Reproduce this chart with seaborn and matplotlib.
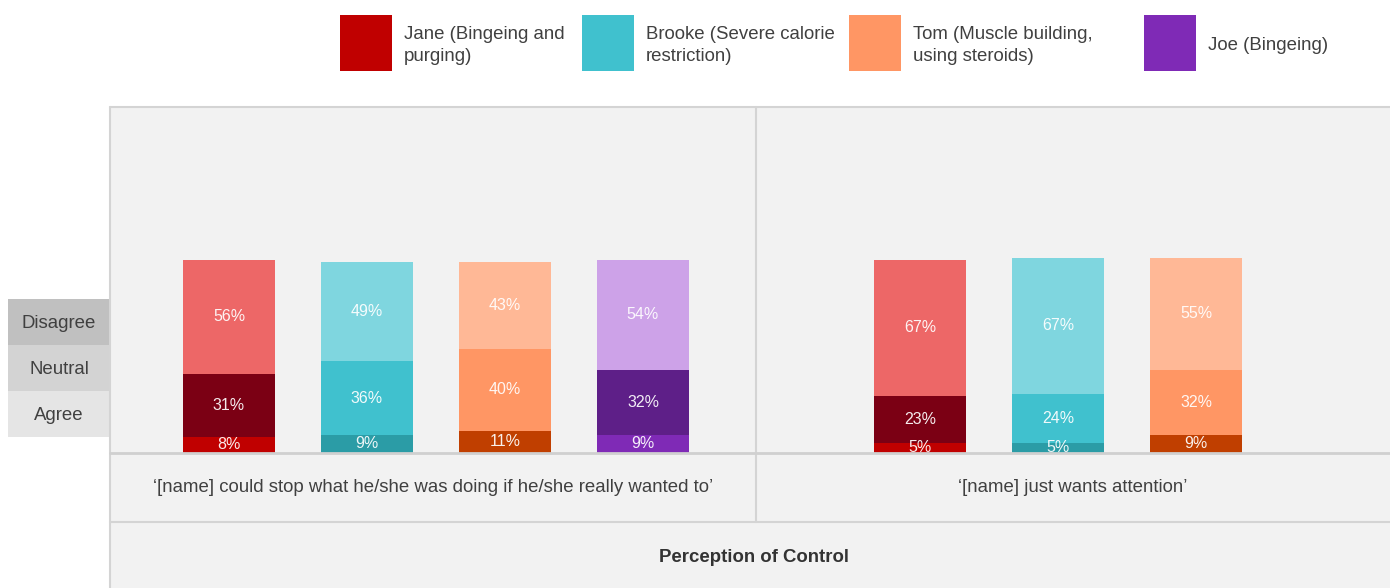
import matplotlib
matplotlib.use("Agg")
import matplotlib.pyplot as plt
from matplotlib.patches import Rectangle
from matplotlib.lines import Line2D
import seaborn as sns
import pandas as pd

sns.set_theme(style="white")
plt.rcParams['font.family'] = ['Liberation Sans', 'DejaVu Sans']

# ---------------- data ----------------
names = ["Jane", "Brooke", "Tom", "Joe"]
legend_labels = ["Jane (Bingeing and\npurging)", "Brooke (Severe calorie\nrestriction)",
                 "Tom (Muscle building,\nusing steroids)", "Joe (Bingeing)"]
statements = ["‘[name] could stop what he/she was doing if he/she really wanted to’",
              "‘[name] just wants attention’"]
axis_title = "Perception of Control"
levels = ["Disagree", "Neutral", "Agree"]

agree_1 = [8, 9, 11, 9]
neutral_1 = [31, 36, 40, 32]
disagree_1 = [56, 49, 43, 54]

agree_2 = [5, 5, 9]
neutral_2 = [23, 24, 32]
disagree_2 = [67, 67, 55]

# ---------------- styles ----------------
base_colors = ["#c00000", "#40c1ce", "#ff9664", "#7f2ab6"]
agree_colors = ["#c00000", "#2b9ca6", "#c03f00", "#7f2ab6"]
neutral_colors = ["#7b0014", "#40c1ce", "#ff9664", "#5e1f88"]
disagree_colors = ["#ed6767", "#7fd6df", "#ffb896", "#cda2e8"]
level_box_colors = ["#c0c0c0", "#d3d3d3", "#e5e5e5"]
TXT = "#404040"
BG = "#f2f2f2"
LINE = "#d4d4d4"

W, H = 1390, 588
fig = plt.figure(figsize=(W / 100, H / 100), dpi=100)
fig.patch.set_facecolor("white")

def fx(p):
    return p / W

def fy(p):
    return 1 - p / H

# background of panel
fig.patches.append(Rectangle((fx(110), 0), fx(1390) - fx(110), fy(107), transform=fig.transFigure,
                             facecolor=BG, edgecolor="none", zorder=-5))

def add_line(x0, y0, x1, y1, color=LINE, lw=1.5):
    fig.lines.append(Line2D([fx(x0), fx(x1)], [fy(y0), fy(y1)], transform=fig.transFigure,
                            color=color, lw=lw, zorder=3))

add_line(110, 107, 1390, 107)
add_line(110, 107, 110, 588)
add_line(756, 107, 756, 522)
add_line(110, 453, 1390, 453, color="#d0d0d0", lw=2)
add_line(110, 522, 1390, 522)

BAR_W = 0.667

def draw_panel(rect, xlim, n, agree, neutral, disagree):
    ax = fig.add_axes(rect)
    ax.set_facecolor("none")
    cats = names[:n]
    cum_a = agree
    cum_n = [a + b for a, b in zip(agree, neutral)]
    cum_d = [a + b + c for a, b, c in zip(agree, neutral, disagree)]
    for vals, cols in [(cum_d, disagree_colors), (cum_n, neutral_colors), (cum_a, agree_colors)]:
        df = pd.DataFrame({"name": cats, "value": vals})
        sns.barplot(data=df, x="name", y="value", hue="name", order=cats, hue_order=cats,
                    palette=cols[:n], width=BAR_W, dodge=False, legend=False,
                    saturation=1, linewidth=0, ax=ax)
    for i in range(n):
        bottoms = [0, agree[i], agree[i] + neutral[i]]
        for b, v in zip(bottoms, [agree[i], neutral[i], disagree[i]]):
            ax.text(i, b + v / 2, f"{v}%", ha="center", va="center", color="white",
                    alpha=0.92, fontsize=11.5, clip_on=True)
    ax.set_xlim(*xlim)
    ax.set_ylim(0, 170)
    ax.set_xticks([])
    ax.set_yticks([])
    ax.set_xlabel("")
    ax.set_ylabel("")
    for s in ax.spines.values():
        s.set_visible(False)
    return ax

draw_panel([fx(110), fy(453), (756 - 110) / W, (453 - 107) / H], (-0.862, 3.819), 4,
           agree_1, neutral_1, disagree_1)
draw_panel([fx(756), fy(453), (1390 - 756) / W, (453 - 107) / H], (-1.188, 3.406), 3,
           agree_2, neutral_2, disagree_2)

# statement labels
fig.text(fx(433), fy(488), statements[0], ha="center", va="center", fontsize=13.4, color=TXT)
fig.text(fx(1073), fy(488), statements[1], ha="center", va="center", fontsize=13.4, color=TXT)
fig.text(fx(754), fy(558), axis_title, ha="center", va="center", fontsize=13.4,
         fontweight="bold", color="#333333")

# left level legend
for k, (lab, col) in enumerate(zip(levels, level_box_colors)):
    top = 299 + 46 * k
    fig.patches.append(Rectangle((fx(8), fy(top + 46)), fx(110) - fx(8), fy(top) - fy(top + 46),
                                 transform=fig.transFigure, facecolor=col, edgecolor="none", zorder=1))
    fig.text(fx(59), fy(top + 24), lab, ha="center", va="center", fontsize=13.4, color=TXT)

# top legend
sq_x = [340, 582, 849, 1144]
for lab, col, x in zip(legend_labels, base_colors, sq_x):
    fig.patches.append(Rectangle((fx(x), fy(71)), fx(x + 52) - fx(x), fy(15) - fy(71),
                                 transform=fig.transFigure, facecolor=col, edgecolor="none", zorder=1))
    fig.text(fx(x + 64), fy(45.5), lab, ha="left", va="center", fontsize=13.4, color=TXT,
             linespacing=1.4)

fig.savefig("out.png", dpi=100)
